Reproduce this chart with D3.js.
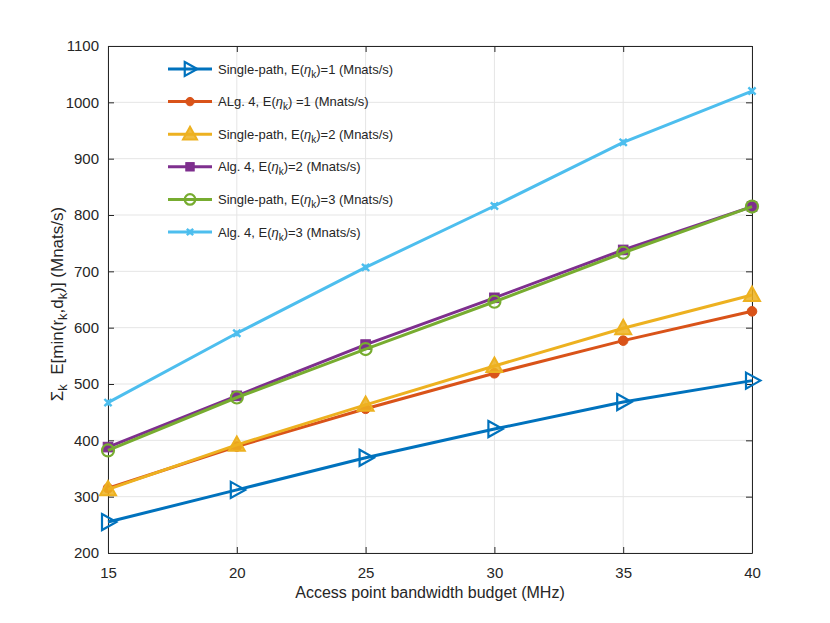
<!DOCTYPE html>
<html>
<head>
<meta charset="utf-8">
<script src="https://cdn.jsdelivr.net/npm/d3@7"></script>
<style>
  body { margin: 0; background: #fff; }
  text { font-family: "Liberation Sans", Arial, sans-serif; fill: #262626; }
</style>
</head>
<body>
<div id="vis"></div>
<script>
const W = 830, H = 623;
const margin = { top: 46, right: 78, bottom: 70, left: 108 };
const width = W - margin.left - margin.right;
const height = H - margin.top - margin.bottom;

// bandwidth budget (MHz)
const bandwidth = [15, 20, 25, 30, 35, 40];
const xTicks = [15, 20, 25, 30, 35, 40];
const yTicks = [200, 300, 400, 500, 600, 700, 800, 900, 1000, 1100];

// sum throughput per series (Mnats/s)
const spEta1 = [255, 312, 369, 420, 468, 506];
const algEta1 = [315, 389, 456, 519, 577, 629];
const spEta2 = [313, 392, 463, 532, 599, 658];
const algEta2 = [388, 479, 570, 653, 738, 815];
const spEta3 = [382, 476, 562, 646, 733, 815];
const algEta3 = [467, 590, 707, 816, 929, 1020];

const seriesNames = [
  ["Single-path, E(", ")=1 (Mnats/s)"],
  ["ALg. 4, E(", ") =1 (Mnats/s)"],
  ["Single-path, E(", ")=2 (Mnats/s)"],
  ["Alg. 4, E(", ")=2 (Mnats/s)"],
  ["Single-path, E(", ")=3 (Mnats/s)"],
  ["Alg. 4, E(", ")=3 (Mnats/s)"]
];
const seriesValues = [spEta1, algEta1, spEta2, algEta2, spEta3, algEta3];
const colors = ["#0072BD", "#D95319", "#EDB120", "#7E2F8E", "#77AC30", "#4DBEEE"];
const markers = ["tri-right", "circle-filled", "triangle", "square", "circle", "x"];

const series = seriesValues.map((vals, i) => ({
  name: seriesNames[i],
  color: colors[i],
  marker: markers[i],
  points: vals.map((v, j) => ({ x: bandwidth[j], y: v }))
}));

const svg = d3.select("#vis").append("svg")
  .attr("width", W).attr("height", H);

const g = svg.append("g")
  .attr("transform", `translate(${margin.left},${margin.top})`);

const xScale = d3.scaleLinear().domain([15, 40]).range([0, width]);
const yScale = d3.scaleLinear().domain([200, 1100]).range([height, 0]);

// grid
g.append("g").selectAll("line").data(xTicks).join("line")
  .attr("x1", d => xScale(d)).attr("x2", d => xScale(d))
  .attr("y1", 0).attr("y2", height)
  .attr("stroke", "#e5e5e5").attr("stroke-width", 1);
g.append("g").selectAll("line").data(yTicks).join("line")
  .attr("x1", 0).attr("x2", width)
  .attr("y1", d => yScale(d)).attr("y2", d => yScale(d))
  .attr("stroke", "#e5e5e5").attr("stroke-width", 1);

// axes (ticks inside, MATLAB style)
const axisColor = "#262626";
function styleAxis(sel) {
  sel.select(".domain").attr("stroke", axisColor);
  sel.selectAll(".tick line").attr("stroke", axisColor);
  sel.selectAll(".tick text").style("font-size", "15px").attr("fill", axisColor);
}
g.append("g").attr("transform", `translate(0,${height})`)
  .call(d3.axisBottom(xScale).tickValues(xTicks).tickFormat(d3.format("d"))
    .tickSizeInner(-6).tickSizeOuter(0).tickPadding(14))
  .call(styleAxis);
g.append("g")
  .call(d3.axisTop(xScale).tickValues(xTicks).tickSizeInner(-6).tickSizeOuter(0).tickFormat(""))
  .call(styleAxis);
g.append("g")
  .call(d3.axisLeft(yScale).tickValues(yTicks).tickFormat(d3.format("d"))
    .tickSizeInner(-6).tickSizeOuter(0).tickPadding(9))
  .call(styleAxis);
g.append("g").attr("transform", `translate(${width},0)`)
  .call(d3.axisRight(yScale).tickValues(yTicks).tickSizeInner(-6).tickSizeOuter(0).tickFormat(""))
  .call(styleAxis);

// marker drawing
function drawMarker(sel, type, color, size) {
  const s = size;
  if (type === "tri-right") {
    sel.append("path")
      .attr("d", `M${-s * 0.75},${-s}L${s * 1.05},0L${-s * 0.75},${s}Z`)
      .attr("fill", "none").attr("stroke", color).attr("stroke-width", 2.2);
  } else if (type === "triangle") {
    sel.append("path")
      .attr("d", `M0,${-s * 1.05}L${s},${s * 0.75}L${-s},${s * 0.75}Z`)
      .attr("fill", color).attr("fill-opacity", 0.85)
      .attr("stroke", color).attr("stroke-width", 2);
  } else if (type === "circle-filled") {
    sel.append("circle").attr("r", s * 0.6)
      .attr("fill", color).attr("stroke", color).attr("stroke-width", 1);
  } else if (type === "circle") {
    sel.append("circle").attr("r", s * 0.75)
      .attr("fill", "none").attr("stroke", color).attr("stroke-width", 2.2);
  } else if (type === "square") {
    sel.append("rect").attr("x", -s * 0.6).attr("y", -s * 0.6)
      .attr("width", s * 1.2).attr("height", s * 1.2)
      .attr("fill", color).attr("stroke", color).attr("stroke-width", 1);
  } else if (type === "x") {
    const r = s * 0.45;
    sel.append("path")
      .attr("d", `M${-r},${-r}L${r},${r}M${-r},${r}L${r},${-r}M0,${-r * 0.8}V${r * 0.8}`)
      .attr("stroke", color).attr("stroke-width", 2.4).attr("fill", "none");
  }
}

const line = d3.line().x(d => xScale(d.x)).y(d => yScale(d.y));

const seriesG = g.selectAll(".series").data(series).join("g").attr("class", "series");
seriesG.append("path")
  .attr("d", d => line(d.points))
  .attr("fill", "none")
  .attr("stroke", d => d.color)
  .attr("stroke-width", 3);
seriesG.each(function (s) {
  d3.select(this).selectAll(".mk").data(s.points).join("g")
    .attr("class", "mk")
    .attr("transform", d => `translate(${xScale(d.x)},${yScale(d.y)})`)
    .each(function () { drawMarker(d3.select(this), s.marker, s.color, 8); });
});

// legend (no box)
const legend = svg.append("g").attr("transform", "translate(168,69)");
const item = legend.selectAll(".item").data(series).join("g")
  .attr("class", "item")
  .attr("transform", (d, i) => `translate(0,${i * 32.6})`);
item.append("line")
  .attr("x1", 0).attr("x2", 44).attr("y1", 0).attr("y2", 0)
  .attr("stroke", d => d.color).attr("stroke-width", 3);
item.each(function (s) {
  const mk = d3.select(this).append("g").attr("transform", "translate(22,0)");
  drawMarker(mk, s.marker, s.color, 7);
});
const lt = item.append("text")
  .attr("x", 50).attr("y", 4.5)
  .style("font-size", "13px");
lt.append("tspan").text(d => d.name[0]);
lt.append("tspan").style("font-style", "italic").text("\u03b7");
lt.append("tspan").attr("dy", 4).style("font-size", "10px").text("k");
lt.append("tspan").attr("dy", -4).text(d => d.name[1]);

// axis labels
svg.append("text")
  .attr("x", margin.left + width / 2).attr("y", 598)
  .attr("text-anchor", "middle")
  .style("font-size", "16px")
  .text("Access point bandwidth budget (MHz)");

const yl = svg.append("text")
  .attr("transform", `translate(63,304) rotate(-90)`)
  .attr("text-anchor", "middle")
  .style("font-size", "17px");
yl.append("tspan").text("\u03a3");
yl.append("tspan").attr("dy", 4).style("font-size", "13px").text("k");
yl.append("tspan").attr("dy", -4).text("\u00a0\u00a0E[min(r");
yl.append("tspan").attr("dy", 4).style("font-size", "13px").text("k");
yl.append("tspan").attr("dy", -4).text(",d");
yl.append("tspan").attr("dy", 4).style("font-size", "13px").text("k");
yl.append("tspan").attr("dy", -4).text(")] (Mnats/s)");
</script>
</body>
</html>
